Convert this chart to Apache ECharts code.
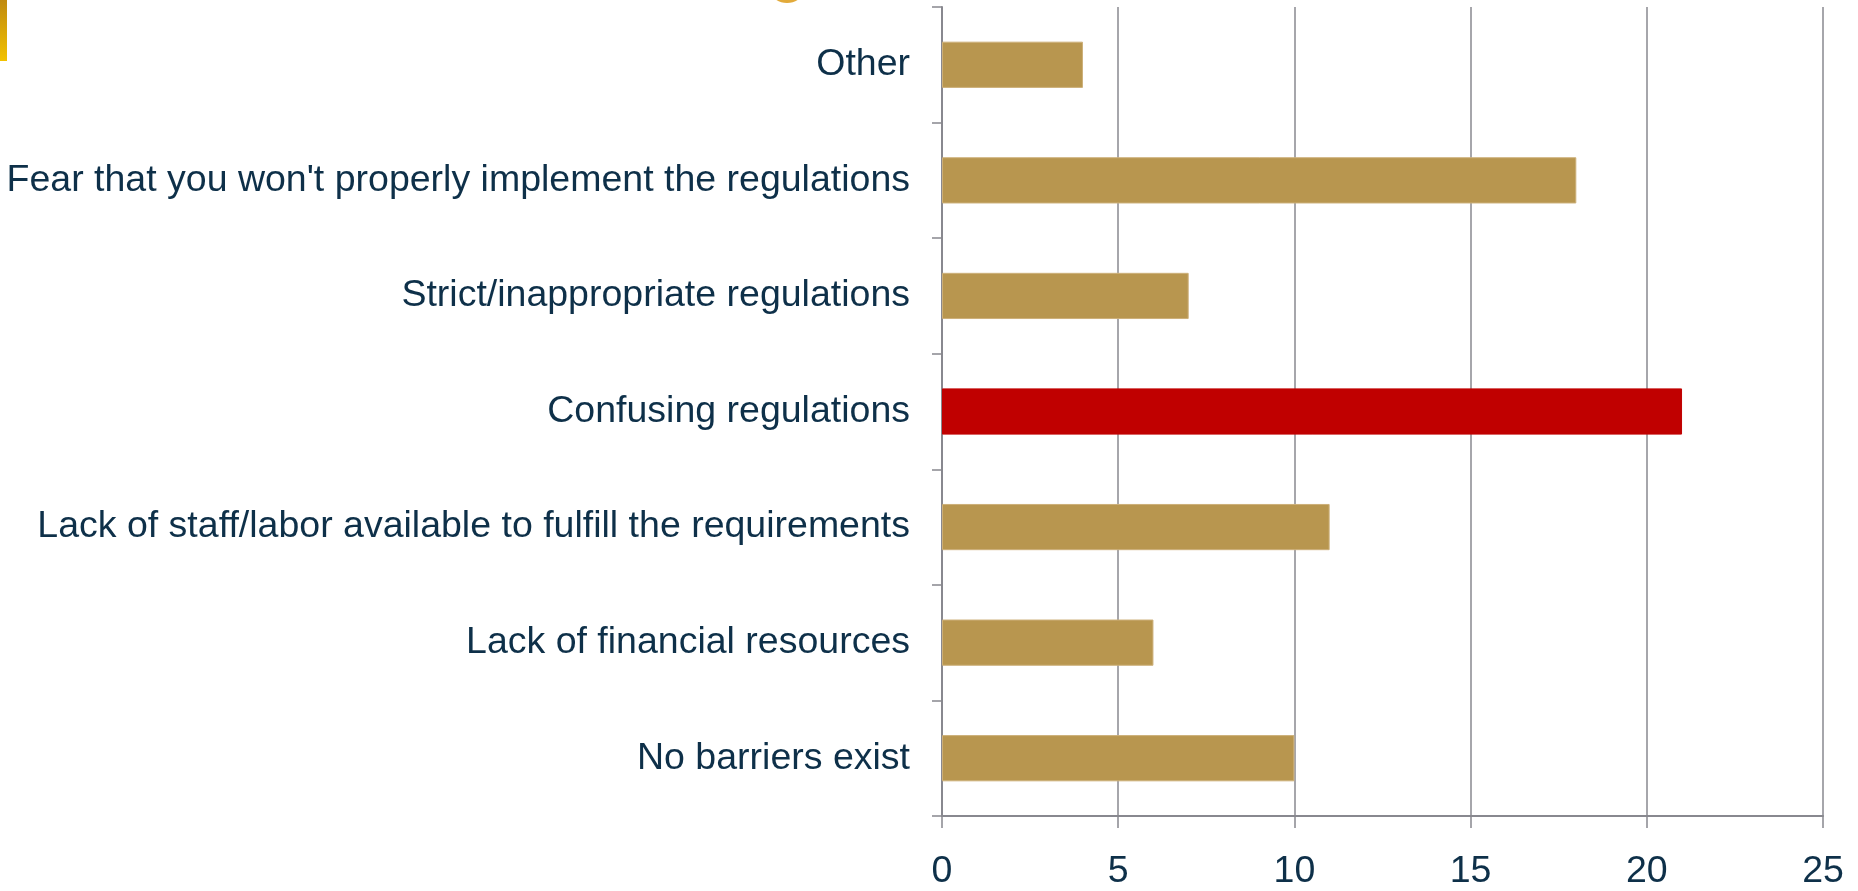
<!DOCTYPE html>
<html>
<head>
<meta charset="utf-8">
<script src="https://cdn.jsdelivr.net/npm/echarts@6/dist/echarts.min.js"></script>
<style>
html,body{margin:0;padding:0;background:#fff;}
#chart{width:1858px;height:891px;}
</style>
</head>
<body>
<div id="chart"></div>
<script>
var categories = [
  "No barriers exist",
  "Lack of financial resources",
  "Lack of staff/labor available to fulfill the requirements",
  "Confusing regulations",
  "Strict/inappropriate regulations",
  "Fear that you won't properly implement the regulations",
  "Other"
];
var values = [10, 6, 11, 21, 7, 18, 4];
var highlightCategory = "Confusing regulations";
var xTicks = [0, 5, 10, 15, 20, 25];

var gold = '#B8964F';
var goldEdge = '#CDB07A';
var red = '#C00000';
var textColor = '#0E3049';
var gridGray = '#88888F';

var chart = echarts.init(document.getElementById('chart'));
chart.setOption({
  animation: false,
  textStyle: { fontFamily: 'Liberation Sans, Arial, sans-serif' },
  grid: { left: 942, right: 35, top: 7, bottom: 70, containLabel: false },
  xAxis: {
    type: 'value',
    min: xTicks[0],
    max: xTicks[xTicks.length - 1],
    interval: 5,
    axisLine: { show: true, lineStyle: { color: gridGray, width: 2 } },
    axisTick: { show: true, length: 12, lineStyle: { color: gridGray, width: 1.5 } },
    splitLine: { show: true, lineStyle: { color: gridGray, width: 1.5 } },
    axisLabel: { color: textColor, fontSize: 37.5, margin: 37, fontFamily: 'Liberation Sans' }
  },
  yAxis: {
    type: 'category',
    data: categories,
    axisLine: { show: true, lineStyle: { color: gridGray, width: 2 } },
    axisTick: { show: true, length: 10, alignWithLabel: false, lineStyle: { color: gridGray, width: 1.5 } },
    axisLabel: { color: textColor, fontSize: 37.5, margin: 32, fontFamily: 'Liberation Sans' }
  },
  series: [{
    type: 'bar',
    barWidth: '40%',
    data: values.map(function (v, i) {
      var hi = categories[i] === highlightCategory;
      return {
        value: v,
        itemStyle: {
          color: hi ? red : gold,
          borderColor: hi ? red : goldEdge,
          borderWidth: 1
        }
      };
    })
  }],
  graphic: [
    {
      type: 'rect',
      shape: { x: 0, y: 0, width: 7, height: 61 },
      style: {
        fill: new echarts.graphic.LinearGradient(0, 0, 0, 1, [
          { offset: 0, color: '#C08A10' },
          { offset: 1, color: '#F2C200' }
        ])
      },
      silent: true
    },
    {
      type: 'ellipse',
      shape: { cx: 787, cy: -9, rx: 16, ry: 12 },
      style: { fill: '#E2AA3A' },
      silent: true
    }
  ]
});
</script>
</body>
</html>
